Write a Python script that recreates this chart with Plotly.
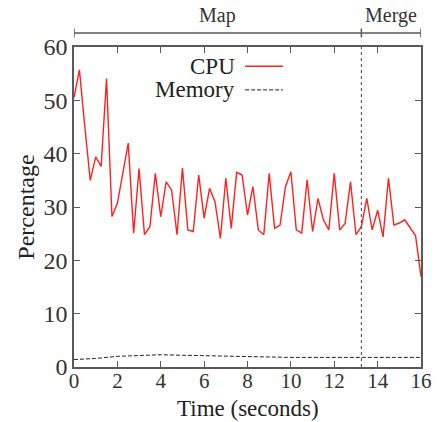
import plotly.graph_objects as go

# ---- data ----
cpu_time = [i * 0.25 for i in range(65)]
cpu_pct = [50.5, 55.7, 45.0, 35.0, 39.4, 37.6, 54.1, 28.2, 30.7, 36.0,
           42.0, 25.1, 37.2, 24.8, 26.3, 36.3, 28.2, 34.7, 33.2, 24.8,
           37.3, 25.7, 25.4, 36.0, 27.9, 33.5, 31.0, 24.1, 35.4, 26.0,
           36.5, 36.0, 28.5, 33.8, 25.7, 24.8, 36.3, 26.0, 26.6, 33.8,
           36.6, 25.7, 25.1, 35.1, 25.4, 31.6, 27.6, 25.7, 36.3, 25.7,
           26.9, 34.7, 24.8, 26.3, 31.6, 25.7, 29.4, 24.4, 35.4, 26.6,
           27.0, 27.6, 26.2, 24.6, 16.9]
mem_time = [0, 1, 2, 3, 4, 5, 6, 7, 8, 9, 10, 11, 12, 13, 14, 15, 16]
mem_pct = [1.4, 1.6, 2.0, 2.2, 2.3, 2.2, 2.1, 2.0, 1.9, 1.9, 1.8, 1.8, 1.8, 1.8, 1.8, 1.8, 1.8]
phase_names = ["Map", "Merge"]
phase_bounds = [0, 13.25, 16]
x_ticks = [0, 2, 4, 6, 8, 10, 12, 14, 16]
y_ticks = [0, 10, 20, 30, 40, 50, 60]

FONT = "Liberation Serif"
AX = "#5a5a5a"
CPU_LINE = dict(color="#ff2020", width=1.4)
MEM_LINE = dict(color="#222222", width=1, dash="4px,2px")

fig = go.Figure()
fig.add_trace(go.Scatter(x=cpu_time, y=cpu_pct, mode="lines", name="CPU",
                         line=CPU_LINE, showlegend=False))
fig.add_trace(go.Scatter(x=mem_time, y=mem_pct, mode="lines", name="Memory",
                         line=MEM_LINE, showlegend=False))

shapes = []
# phase boundary vertical dotted line
for b in phase_bounds[1:-1]:
    shapes.append(dict(type="line", xref="x", yref="y", x0=b, x1=b, y0=0, y1=60,
                       line=dict(color="#444444", width=1, dash="dot")))
# phase bracket on top
yb = 1.044
shapes.append(dict(type="line", xref="x", yref="paper", x0=phase_bounds[0], x1=phase_bounds[-1],
                   y0=yb, y1=yb, line=dict(color=AX, width=1.5)))
for b in phase_bounds:
    shapes.append(dict(type="line", xref="x", yref="paper", x0=b, x1=b, y0=yb - 0.014, y1=yb + 0.014,
                       line=dict(color=AX, width=1.5)))
annotations = []
for i, name in enumerate(phase_names):
    annotations.append(dict(x=(phase_bounds[i] + phase_bounds[i + 1]) / 2, y=yb + 0.012,
                            xref="x", yref="paper", text=name, showarrow=False,
                            yanchor="bottom", font=dict(family=FONT, size=20, color="#333333")))

# manual legend (text left of sample line)
leg = [("CPU", CPU_LINE), ("Memory", MEM_LINE)]
for k, (txt, ln) in enumerate(leg):
    yy = 0.94 - k * 0.074
    annotations.append(dict(x=0.458, y=yy, xref="paper", yref="paper", text=txt, showarrow=False,
                            xanchor="right", yanchor="middle", xshift=4,
                            font=dict(family=FONT, size=23, color="#222222")))
    shapes.append(dict(type="line", xref="paper", yref="paper", x0=0.493, x1=0.602, y0=yy, y1=yy, line=ln))

# x-axis title as annotation placed under the tick labels
annotations.append(dict(x=0.5, y=0, xref="paper", yref="paper", text="Time (seconds)", showarrow=False,
                        xanchor="center", yanchor="top", yshift=-27,
                        font=dict(family=FONT, size=23, color="#222222")))

fig.update_layout(
    width=439, height=422,
    margin=dict(l=74, r=18, t=47, b=55),
    paper_bgcolor="white", plot_bgcolor="white",
    font=dict(family=FONT, color="#333333"),
    shapes=shapes, annotations=annotations,
    xaxis=dict(range=[0, 16], tickvals=x_ticks, ticks="inside", ticklen=6, tickcolor=AX,
               showline=True, linecolor=AX, linewidth=1.5, mirror="allticks", showgrid=False,
               zeroline=False, automargin=False, ticklabelstandoff=-6,
               tickfont=dict(family=FONT, size=21, color="#333333")),
    yaxis=dict(range=[0, 60], tickvals=y_ticks, ticks="inside", ticklen=6, tickcolor=AX,
               showline=True, linecolor=AX, linewidth=1.5, mirror="allticks", showgrid=False,
               zeroline=False, automargin=False,
               tickfont=dict(family=FONT, size=24, color="#333333"),
               title=dict(text="Percentage", font=dict(family=FONT, size=24, color="#222222"), standoff=2)),
)
fig.write_html("out.html")
